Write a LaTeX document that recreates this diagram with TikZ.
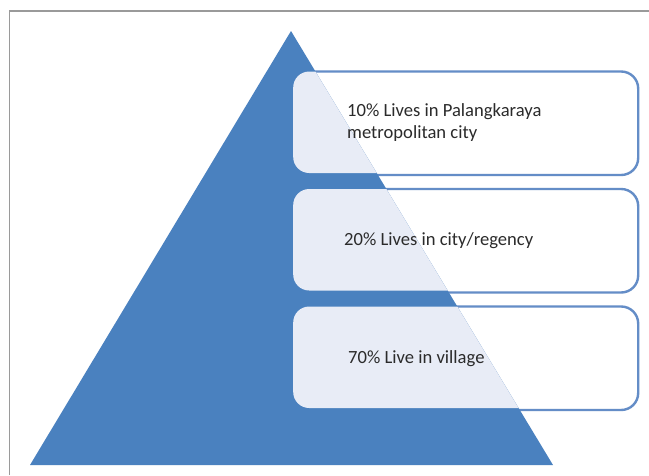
\documentclass[tikz,border=0pt]{standalone}
\usepackage{fontspec}
\setmainfont{Carlito}
\definecolor{tri}{HTML}{4A81BF}
\definecolor{edge}{HTML}{648DC7}
\definecolor{pale}{HTML}{E8ECF6}
\definecolor{frameg}{HTML}{9A9A9A}
\definecolor{ink}{HTML}{2B2B2B}
\tikzset{
  tier/.style={draw=edge, line width=2.4pt, rounded corners=17pt, minimum width=345pt, minimum height=103.5pt, inner sep=0pt, anchor=north west},
  tierfill/.style={fill=pale, rounded corners=16pt, minimum width=343pt, minimum height=101.5pt, inner sep=0pt, anchor=north west},
  lbl/.style={font=\fontsize{18.6pt}{22pt}\selectfont, text=ink, anchor=west, align=left, inner sep=0pt}
}
\begin{document}
\begin{tikzpicture}[x=1pt,y=-1pt]
\useasboundingbox (0,0) rectangle (649,475);
\fill[white] (0,0) rectangle (649,475);
\draw[frameg, line width=1.4pt] (9.5,475) -- (9.5,11) -- (649,11);
\node[tier] (a) at (292,70.3) {};
\node[tier] (b) at (292,187.8) {};
\node[tier] (c) at (292,305.3) {};
\fill[tri] (291,31) -- (553,465) -- (30,465) -- cycle;
\begin{scope}
\clip (291,31) -- (553,465) -- (30,465) -- cycle;
\node[tierfill] (af) at (293,71.3) {};
\node[tierfill] (bf) at (293,188.8) {};
\node[tierfill] (cf) at (293,306.3) {};
\end{scope}
\node[lbl] (ta) at (347,122.5) {10\% Lives in Palangkaraya\\metropolitan city};
\node[lbl] (tb) at (344,240.5) {20\% Lives in city/regency};
\node[lbl] (tc) at (348,358.5) {70\% Live in village};
\end{tikzpicture}
\end{document}
